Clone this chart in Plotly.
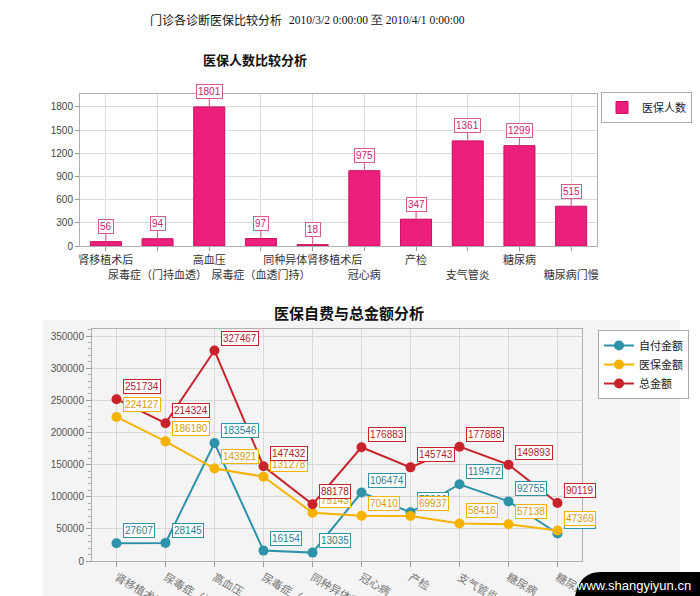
import plotly.graph_objects as go

W, H = 700, 596

categories = ["肾移植术后", "尿毒症（门持血透）", "高血压", "尿毒症（血透门持）",
              "同种异体肾移植术后", "冠心病", "产检", "支气管炎", "糖尿病", "糖尿病门慢"]
insured_count = [56, 94, 1801, 97, 18, 975, 347, 1361, 1299, 515]

self_pay = [27607, 28145, 183546, 16154, 13035, 106474, 75806, 119472, 92755, 42750]
insurance_pay = [224127, 186180, 143921, 131278, 75143, 70410, 69937, 58416, 57138, 47369]
total_amount = [251734, 214324, 327467, 147432, 88178, 176883, 145743, 177888, 149893, 90119]

top_yticks = [0, 300, 600, 900, 1200, 1500, 1800]
bottom_yticks = [0, 50000, 100000, 150000, 200000, 250000, 300000, 350000]

FONT = "Noto Sans CJK SC"
NUM = "Liberation Sans"


def px_x(p):
    return p / W


def px_y(p):
    return 1 - p / H


fig = go.Figure()

# ---- top bar chart ----
fig.add_trace(go.Bar(
    x=categories, y=insured_count, name="医保人数",
    marker=dict(color="#ec1f7a", line=dict(color="#c90f62", width=1)),
    width=0.6, xaxis="x", yaxis="y", legend="legend",
))

for c, v in zip(categories, insured_count):
    fig.add_annotation(
        x=c, y=v, xref="x", yref="y", text=str(v),
        showarrow=True, arrowhead=0, arrowwidth=1, arrowcolor="#d65a92",
        ax=0, ay=-15, standoff=0,
        font=dict(family=NUM, size=10, color="#d0206e"),
        bgcolor="white", bordercolor="#d65a92", borderwidth=1, borderpad=1,
    )

# ---- bottom line chart ----
series = [
    ("自付金额", self_pay, "#2e93a8", "#2a7d92"),
    ("医保金额", insurance_pay, "#f5b300", "#d99a10"),
    ("总金额", total_amount, "#c8232c", "#b3202a"),
]
for name, vals, col, tcol in series:
    fig.add_trace(go.Scatter(
        x=categories, y=vals, name=name, mode="lines+markers",
        line=dict(color=col, width=2), marker=dict(color=col, size=10),
        xaxis="x2", yaxis="y2", legend="legend2",
    ))
for name, vals, col, tcol in series:
    for c, v in zip(categories, vals):
        fig.add_annotation(
            x=c, y=v, xref="x2", yref="y2", text=str(v), showarrow=False,
            xanchor="left", yanchor="bottom", xshift=6, yshift=5,
            font=dict(family=NUM, size=10, color=tcol),
            bgcolor="white", bordercolor=col, borderwidth=1, borderpad=1,
        )

# ---- titles ----
fig.add_annotation(x=px_x(284), y=px_y(20), xref="paper", yref="paper",
                   text="门诊各诊断医保比较分析", showarrow=False,
                   xanchor="right", yanchor="middle",
                   font=dict(family=FONT, size=12, color="#111"))
fig.add_annotation(x=px_x(287), y=px_y(20), xref="paper", yref="paper",
                   text="2010/3/2 0:00:00 至 2010/4/1 0:00:00", showarrow=False,
                   xanchor="left", yanchor="middle",
                   font=dict(family="Liberation Serif", size=11.5, color="#111"))
fig.add_annotation(x=px_x(255), y=px_y(60), xref="paper", yref="paper",
                   text="<b>医保人数比较分析</b>", showarrow=False,
                   xanchor="center", yanchor="middle",
                   font=dict(family=FONT, size=13, color="#111"))
fig.add_annotation(x=px_x(349), y=px_y(312), xref="paper", yref="paper",
                   text="<b>医保自费与总金额分析</b>", showarrow=False,
                   xanchor="center", yanchor="middle",
                   font=dict(family=FONT, size=15, color="#111"))

# watermark banner bottom-right
fig.add_shape(type="path", xref="paper", yref="paper",
              path=f"M {px_x(575)} {px_y(596)} Q {px_x(580)} {px_y(572)} {px_x(600)} {px_y(572)} "
                   f"L {px_x(700)} {px_y(572)} L {px_x(700)} {px_y(596)} Z",
              fillcolor="black", line=dict(width=0), layer="above")
fig.add_annotation(x=px_x(693), y=px_y(585), xref="paper", yref="paper",
                   text="www.shangyiyun.cn", showarrow=False,
                   xanchor="right", yanchor="middle",
                   font=dict(family="Liberation Sans", size=13, color="white"))

# grey panel behind bottom chart
fig.add_shape(type="rect", xref="paper", yref="paper",
              x0=px_x(43), x1=px_x(680), y0=0, y1=px_y(320),
              fillcolor="#f4f4f4", line=dict(width=0), layer="below")

top_ticktext = [c if i % 2 == 0 else "<br>" + c for i, c in enumerate(categories)]

fig.update_layout(
    width=W, height=H,
    margin=dict(l=0, r=0, t=0, b=0),
    paper_bgcolor="white",
    plot_bgcolor="rgba(0,0,0,0)",
    showlegend=True,
    font=dict(family=FONT, size=11, color="#333"),
    xaxis=dict(
        domain=[px_x(80), px_x(597)], anchor="y", automargin=False,
        tickmode="array", tickvals=categories, ticktext=top_ticktext,
        tickangle=0,
        tickfont=dict(family=FONT, size=11, color="#333"),
        showgrid=True, gridcolor="#dcdcdc", gridwidth=1,
        showline=True, linecolor="#b0b0b0", mirror=True,
        ticks="outside", ticklen=4, tickcolor="#999",
        range=[-0.5, 9.5],
    ),
    yaxis=dict(
        domain=[px_y(246), px_y(94)], anchor="x", automargin=False,
        range=[0, 1968], tickvals=top_yticks,
        tickfont=dict(family=NUM, size=10, color="#444"),
        showgrid=True, gridcolor="#dcdcdc", gridwidth=1,
        showline=True, linecolor="#b0b0b0", mirror=True,
        ticks="outside", ticklen=4, tickcolor="#999",
        zeroline=False,
    ),
    xaxis2=dict(
        domain=[px_x(92), px_x(582)], anchor="y2", automargin=False,
        tickangle=30,
        tickfont=dict(family=FONT, size=11, color="#777"),
        showgrid=True, gridcolor="#d8d8d8", gridwidth=1,
        showline=True, linecolor="#b0b0b0", mirror=True,
        ticks="outside", ticklen=5, tickcolor="#999",
        range=[-0.5, 9.5],
    ),
    yaxis2=dict(
        domain=[px_y(561), px_y(329)], anchor="x2", automargin=False,
        range=[0, 361000], tickvals=bottom_yticks, tickformat="d",
        tickfont=dict(family=NUM, size=10, color="#555"),
        showgrid=True, gridcolor="#d8d8d8", gridwidth=1,
        showline=True, linecolor="#b0b0b0", mirror=True,
        ticks="outside", ticklen=5, tickcolor="#999",
        minor=dict(ticks="outside", ticklen=3, dtick=10000, tickcolor="#aaa", showgrid=False),
        zeroline=False,
    ),
    legend=dict(
        x=px_x(601), y=px_y(92), xanchor="left", yanchor="top",
        bgcolor="white", bordercolor="#aaa", borderwidth=1,
        font=dict(family=FONT, size=11, color="#222"),
        itemwidth=30, tracegroupgap=0,
    ),
    legend2=dict(
        x=px_x(598), y=px_y(330), xanchor="left", yanchor="top",
        bgcolor="white", bordercolor="#aaa", borderwidth=1,
        font=dict(family=FONT, size=11, color="#222"),
        itemwidth=30, tracegroupgap=0,
    ),
)

fig.write_html("out.html", config={"displayModeBar": False},
               post_script="document.body.style.margin='0';document.body.style.overflow='hidden';")
